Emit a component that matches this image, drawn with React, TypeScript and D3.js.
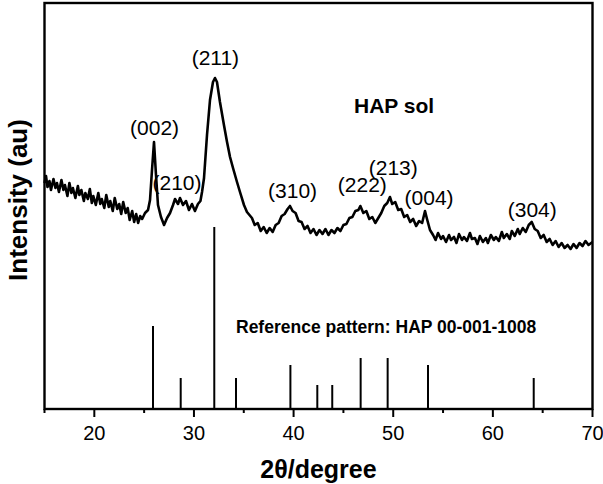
import React from "react";
import * as d3 from "d3";

const W = 603;
const H = 484;

const pattern: [number, number][] = [
  [15.0, 226], [15.15, 233], [15.3, 222], [15.5, 228], [15.65, 219], [15.9, 230], [16.1, 221], [16.25, 226],
  [16.45, 217], [16.7, 229], [16.9, 219], [17.05, 224], [17.3, 213], [17.5, 226], [17.7, 216], [17.85, 221],
  [18.1, 211], [18.35, 223], [18.5, 214], [18.7, 219], [18.95, 208], [19.1, 216], [19.35, 210], [19.55, 220],
  [19.75, 206], [19.9, 213], [20.15, 204], [20.4, 216], [20.6, 205], [20.75, 210], [21.0, 201], [21.2, 214],
  [21.45, 202], [21.6, 208], [21.85, 198], [22.05, 211], [22.3, 200], [22.5, 205], [22.7, 195], [22.9, 207],
  [23.15, 196], [23.35, 201], [23.55, 189], [23.8, 198], [24.0, 187], [24.2, 195], [24.4, 186], [24.6, 193],
  [24.8, 190], [25.09, 196], [25.39, 199], [25.59, 209], [25.79, 239], [25.99, 267], [26.19, 234], [26.39, 204],
  [26.69, 192], [27.0, 184], [27.3, 191], [27.6, 196], [27.9, 204], [28.1, 210], [28.4, 205], [28.6, 211],
  [28.9, 204], [29.2, 208], [29.5, 199], [29.8, 205], [30.1, 198], [30.4, 205], [30.65, 208], [30.81, 217],
  [31.01, 231], [31.31, 274], [31.61, 309], [31.91, 327], [32.11, 331], [32.31, 327], [32.61, 307], [33.01, 284],
  [33.32, 267], [33.62, 252], [33.92, 241], [34.32, 227], [34.62, 217], [35.02, 204], [35.32, 197], [35.82, 191],
  [36.1, 184], [36.4, 186], [36.7, 178], [37.0, 182], [37.3, 176], [37.6, 181], [37.9, 177], [38.2, 184],
  [38.5, 186], [38.8, 193], [39.1, 195], [39.4, 200], [39.64, 203], [39.9, 198], [40.2, 196], [40.5, 188],
  [40.8, 187], [41.1, 180], [41.4, 183], [41.7, 176], [42.0, 180], [42.3, 174], [42.6, 179], [42.9, 175],
  [43.2, 180], [43.5, 174], [43.8, 179], [44.1, 176], [44.4, 181], [44.7, 178], [45.0, 184], [45.3, 185],
  [45.6, 191], [45.9, 192], [46.2, 198], [46.5, 199], [46.7, 203], [47.0, 196], [47.3, 198], [47.6, 190],
  [47.9, 192], [48.2, 186], [48.5, 191], [48.8, 196], [49.1, 203], [49.4, 206], [49.67, 212], [49.9, 205],
  [50.2, 207], [50.5, 199], [50.8, 200], [51.1, 192], [51.4, 194], [51.7, 187], [52.0, 190], [52.3, 183],
  [52.6, 188], [52.9, 186], [53.19, 198], [53.39, 190], [53.69, 179], [54.0, 174], [54.25, 169], [54.5, 176],
  [54.8, 170], [55.0, 173], [55.3, 167], [55.6, 174], [55.8, 169], [56.1, 172], [56.35, 166], [56.6, 175],
  [56.9, 169], [57.1, 172], [57.4, 168], [57.7, 176], [57.9, 170], [58.2, 171], [58.45, 165], [58.7, 173],
  [59.0, 167], [59.3, 171], [59.5, 166], [59.8, 174], [60.1, 169], [60.3, 172], [60.6, 168], [60.9, 177],
  [61.1, 171], [61.4, 175], [61.7, 170], [61.9, 178], [62.2, 173], [62.5, 180], [62.7, 175], [63.0, 181],
  [63.3, 177], [63.6, 184], [63.9, 187], [64.2, 180], [64.5, 178], [64.8, 171], [65.1, 174], [65.4, 167],
  [65.7, 170], [66.0, 164], [66.3, 168], [66.6, 162], [66.9, 166], [67.2, 161], [67.5, 164], [67.8, 160],
  [68.1, 165], [68.4, 161], [68.7, 166], [69.0, 163], [69.3, 168], [69.6, 164], [70.0, 167],
];

// Reference pattern HAP 00-001-1008
const refTheta = [25.89, 28.67, 32.04, 34.22, 39.68, 42.38, 43.88, 46.73, 49.44, 53.49, 64.1];
const refIntensity = [83, 31, 182, 31, 44, 24, 24, 51, 51, 44, 31];

// Miller index labels
const hklLabels = ["(002)", "(210)", "(211)", "(310)", "(222)", "(213)", "(004)", "(304)"];
const hklTheta = [26.05, 28.3, 32.15, 39.9, 46.9, 50.0, 53.6, 63.95];
const hklIntensity = [274, 219, 344, 211, 217, 234, 204, 192];

const xTicksMajor = [20, 30, 40, 50, 60, 70];
const xTicksMinor = [15, 25, 35, 45, 55, 65];

const FONT = "'Liberation Sans', Arial, Helvetica, sans-serif";

export default function App() {
  const left = 44.5, right = 592.5, top = 3, bottom = 409;
  const x = d3.scaleLinear().domain([15, 70]).range([left, right]);
  const y = d3.scaleLinear().domain([0, bottom - top]).range([bottom, top]);
  const line = d3
    .line<[number, number]>()
    .x((d) => x(d[0]))
    .y((d) => y(d[1]));

  return (
    <svg
      width={W}
      height={H}
      style={{ position: "absolute", left: 0, top: 0, background: "#fff" }}
      fontFamily={FONT}
    >
      <path d={line(pattern) || ""} fill="none" stroke="#000" strokeWidth={2.6} strokeLinejoin="round" />

      {refTheta.map((t, i) => (
        <line key={"s" + i} x1={x(t)} x2={x(t)} y1={y(0)} y2={y(refIntensity[i])} stroke="#000" strokeWidth={2} />
      ))}

      <rect x={left} y={top} width={right - left} height={bottom - top} fill="none" stroke="#000" strokeWidth={2.4} />

      {xTicksMajor.map((v) => (
        <line key={"M" + v} x1={x(v)} x2={x(v)} y1={bottom} y2={bottom + 8} stroke="#000" strokeWidth={2} />
      ))}
      {xTicksMinor.map((v) => (
        <line key={"m" + v} x1={x(v)} x2={x(v)} y1={bottom} y2={bottom + 4} stroke="#000" strokeWidth={2} />
      ))}
      {xTicksMajor.map((v) => (
        <text key={"t" + v} x={x(v)} y={440} textAnchor="middle" fontSize={20}>
          {v}
        </text>
      ))}

      {hklLabels.map((lab, i) => (
        <text key={lab} x={x(hklTheta[i])} y={y(hklIntensity[i])} textAnchor="middle" fontSize={21}>
          {lab}
        </text>
      ))}

      <text x={354} y={113} fontWeight="bold" fontSize={21}>
        HAP sol
      </text>
      <text x={236} y={333} fontWeight="bold" fontSize={17.5}>
        Reference pattern: HAP 00-001-1008
      </text>
      <text x={318.5} y={478} textAnchor="middle" fontWeight="bold" fontSize={25}>
        2θ/degree
      </text>
      <text transform="translate(27,200) rotate(-90)" textAnchor="middle" fontWeight="bold" fontSize={26}>
        Intensity (au)
      </text>
    </svg>
  );
}
